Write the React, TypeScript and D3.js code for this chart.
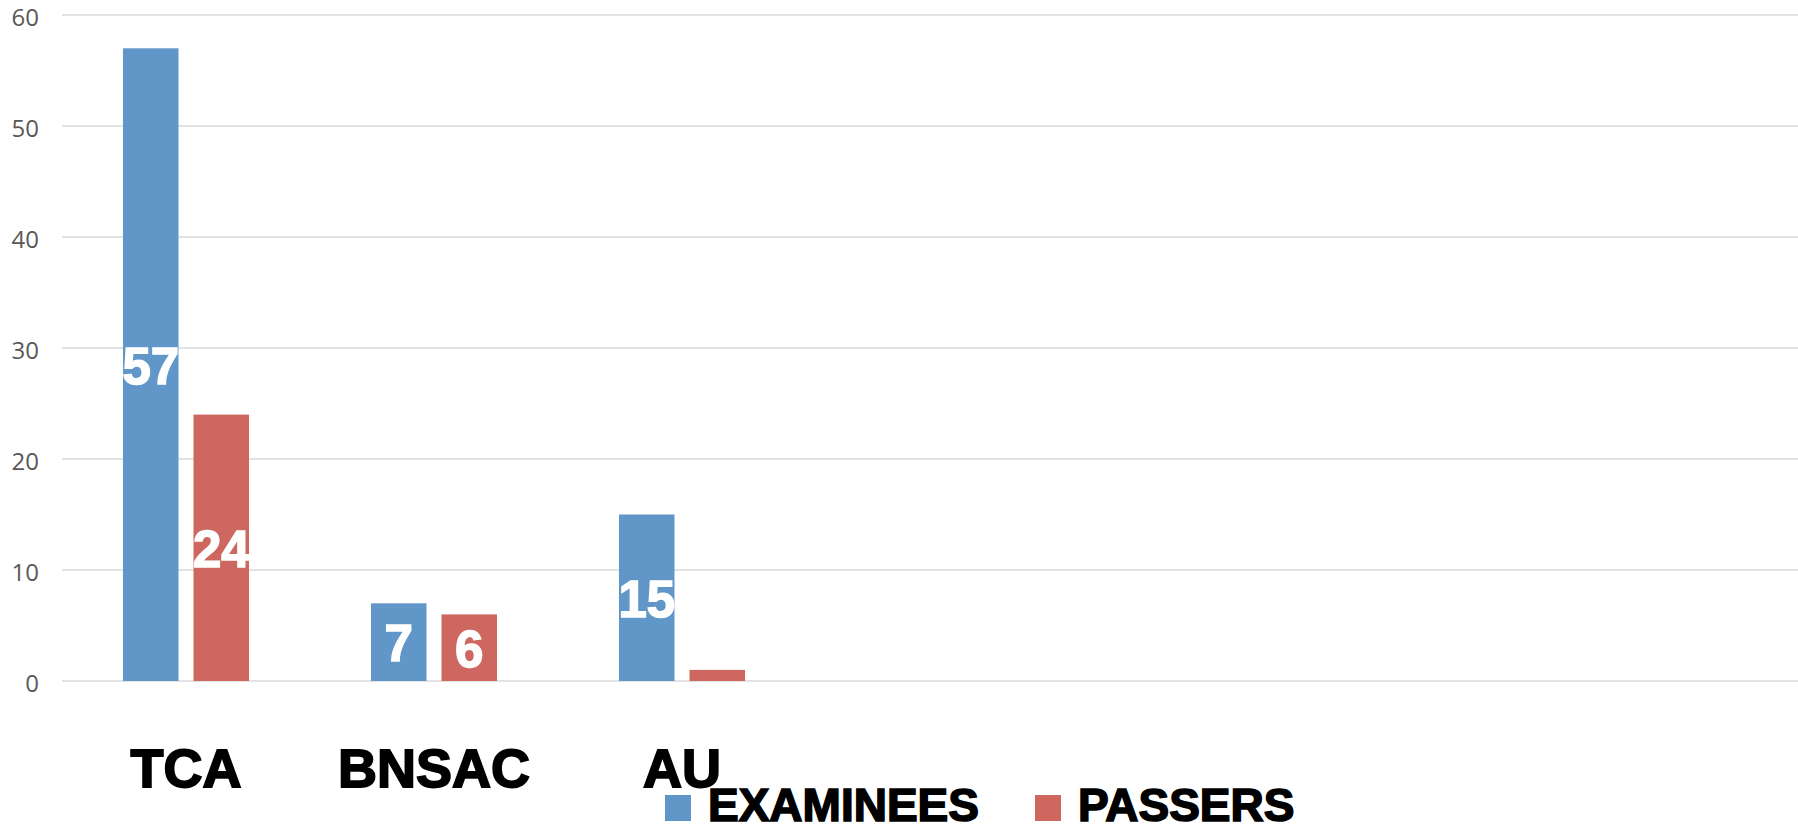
import React from "react";
import * as d3 from "d3";

const categories = ["TCA", "BNSAC", "AU", "", "", "", ""];
const seriesNames = ["EXAMINEES", "PASSERS"];
const examinees = [57, 7, 15];
const passers = [24, 6, 1];
const yTicks = [0, 10, 20, 30, 40, 50, 60];
const colors = ["#6096c8", "#cd675f"];

const W = 1798;
const H = 825;

export default function App() {
  const x = d3
    .scaleBand<number>()
    .domain(categories.map((_, i) => i))
    .range([62, 1798]);
  const inner = d3
    .scaleBand<string>()
    .domain(seriesNames)
    .range([0, x.bandwidth()])
    .paddingInner(0.2128)
    .paddingOuter(0.865);
  const y = d3.scaleLinear().domain([0, 60]).range([681, 15]);
  const series = [examinees, passers];

  return (
    <svg
      width={W}
      height={H}
      style={{ position: "absolute", left: 0, top: 0, background: "#fff" }}
    >
      {yTicks.map((t) => (
        <g key={t}>
          <line
            x1={62}
            x2={W}
            y1={y(t)}
            y2={y(t)}
            stroke="#d9d9d9"
            strokeWidth={1.6}
          />
          <text
            x={39}
            y={y(t) + 11}
            textAnchor="end"
            fontFamily="'Open Sans', sans-serif"
            fontSize={24}
            fill="#595959"
          >
            {t}
          </text>
        </g>
      ))}
      {series.map((vals, si) =>
        vals.map((v, ci) => {
          const bx = (x(ci) as number) + (inner(seriesNames[si]) as number);
          const bw = inner.bandwidth();
          const top = y(v);
          const h = y(0) - top;
          return (
            <g key={`${si}-${ci}`}>
              <rect x={bx} y={top} width={bw} height={h} fill={colors[si]} />
              {h > 40 && (
                <text
                  x={bx + bw / 2}
                  y={top + h / 2 + 19}
                  textAnchor="middle"
                  fontFamily="'Liberation Sans', Arial, sans-serif"
                  fontWeight="bold"
                  fontSize={51}
                  fill="#ffffff"
                  stroke="#ffffff"
                  strokeWidth={1.5}
                >
                  {v}
                </text>
              )}
            </g>
          );
        })
      )}
      {categories.map((c, i) =>
        c ? (
          <text
            key={c}
            x={(x(i) as number) + x.bandwidth() / 2}
            y={787}
            textAnchor="middle"
            fontFamily="'Liberation Sans', Arial, sans-serif"
            fontWeight="bold"
            fontSize={54}
            fill="#000"
            stroke="#000"
            strokeWidth={1.8}
          >
            {c}
          </text>
        ) : null
      )}
      {seriesNames.map((s, i) => {
        const lx = [665, 1035][i];
        return (
          <g key={s}>
            <rect x={lx} y={795} width={26} height={26} fill={colors[i]} />
            <text
              x={lx + 43}
              y={821}
              fontFamily="'Liberation Sans', Arial, sans-serif"
              fontWeight="bold"
              fontSize={46}
              fill="#000"
              stroke="#000"
              strokeWidth={1.6}
            >
              {s}
            </text>
          </g>
        );
      })}
    </svg>
  );
}
